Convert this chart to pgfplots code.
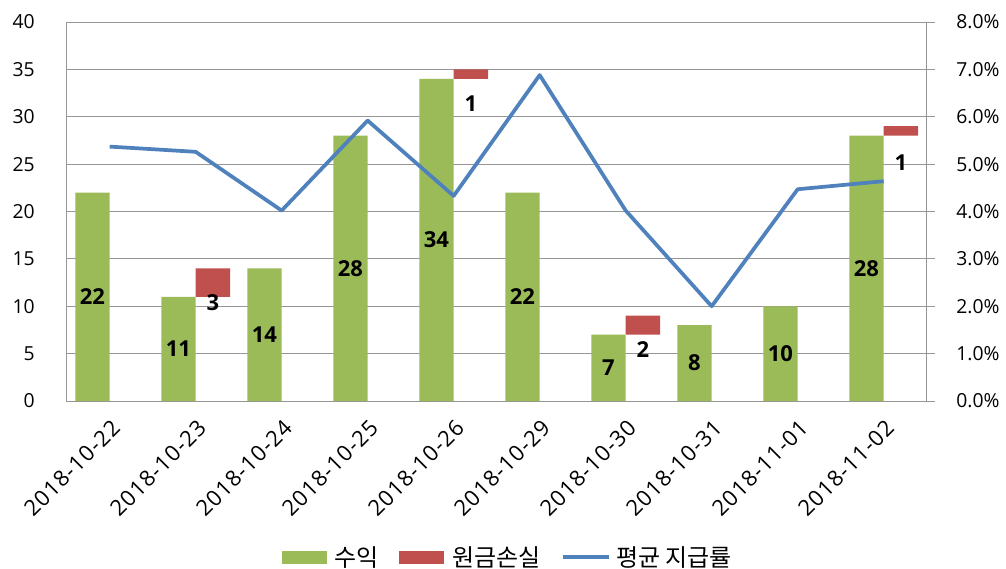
\documentclass[border=0pt]{standalone}
\usepackage{fontspec}
\setmainfont{Open Sans}
\newfontfamily\xlab{Open Sans}[LetterSpace=5]
\newfontfamily\kr{Noto Sans CJK KR}
\usepackage{pgfplots}
\usepackage{pgfplotstable}
\pgfplotsset{compat=1.18}

\definecolor{barGreen}{HTML}{9BBB59}
\definecolor{barRed}{HTML}{C0504D}
\definecolor{lineBlue}{HTML}{4F81BD}
\definecolor{gridGray}{HTML}{969696}

\pgfplotstableread{
x  y
0  22
1  11
2  14
3  28
4  34
5  22
6  7
7  8
8  10
9  28
}\gain

\pgfplotstableread{
x  y
0  0
1  3
2  0
3  0
4  1
5  0
6  2
7  0
8  0
9  1
}\loss

\pgfplotstableread{
x  y
0  5.37
1  5.26
2  4.02
3  5.92
4  4.33
5  6.88
6  4.02
7  2.00
8  4.47
9  4.64
}\rate

\pgfplotstableread{
x     y      lab
-0.2  11     22
0.8   5.5    11
1.8   7      14
2.8   14     28
3.8   17     34
4.8   11     22
5.8   3.5    7
6.8   4      8
7.8   5      10
8.8   14     28
1.2   10.35  3
4.2   31.35  1
6.2   5.4    2
9.2   25.15  1
}\labels

\begin{document}
\begin{tikzpicture}
\pgfplotsset{
  common/.style={
    at={(0,0)}, anchor=south west,
    scale only axis, width=645pt, height=284.25pt,
    xmin=-0.5, xmax=9.5,
    /pgf/number format/assume math mode=true,
    tick label style={font=\fontsize{14.5}{17}\selectfont, text=black},
  }
}
% main axis: bars
\begin{axis}[
  common,
  ymin=0, ymax=40,
  ybar stacked, bar width=0.4,
  xtick={0,...,9},
  xticklabels={2018-10-22,2018-10-23,2018-10-24,2018-10-25,2018-10-26,2018-10-29,2018-10-30,2018-10-31,2018-11-01,2018-11-02},
  xticklabel style={xshift=0.5pt, yshift=-8pt, rotate=45, anchor=north east, font=\xlab\fontsize{16.5}{18}\selectfont},
  ytick={0,5,...,40},
  yticklabel shift=20.5pt,
  major tick length=0pt,
  ymajorgrids,
  grid style={gridGray, line width=0.75pt},
  axis line style={gridGray, line width=0.75pt},
]
\addplot[fill=barGreen, draw=none, bar shift=-0.2] table[x=x,y=y] {\gain};
\addplot[fill=barRed, draw=none, bar shift=0.2] table[x=x,y=y] {\loss};
\end{axis}

% labels
\begin{axis}[
  common, hide axis,
  ymin=0, ymax=40,
]
\addplot[only marks, mark=none, nodes near coords, point meta=explicit symbolic,
  every node near coord/.append style={anchor=center, text=black, font=\bfseries\fontsize{16.5}{18}\selectfont}]
  table[x=x, y=y, meta=lab] {\labels};
\end{axis}

% right axis: line
\begin{axis}[
  common,
  ymin=0, ymax=8,
  axis x line=none,
  axis y line*=right,
  ytick={0,1,...,8},
  yticklabel={\pgfmathprintnumber[fixed,fixed zerofill,precision=1]{\tick}\%},
  tick align=outside,
  major tick length=6pt,
  yticklabel shift=12.7pt,
  axis line style={gridGray, line width=0.75pt},
  y tick style={gridGray, line width=0.75pt},
  legend style={at={(0.5137,-0.4122)}, anchor=center, draw=none, fill=none,
    legend columns=3, font=\kr\fontsize{18}{20}\selectfont,
    /tikz/every even column/.append style={column sep=13pt}},
  legend cell align=left,
]
\addlegendimage{legend image code/.code={\fill[barGreen] (0pt,-4.75pt) rectangle (33pt,4.75pt); \path[draw=none,fill=none] (0pt,0pt) -- (37pt,0pt);}}
\addlegendentry{수익}
\addlegendimage{legend image code/.code={\fill[barRed] (0pt,-4.75pt) rectangle (33pt,4.75pt); \path[draw=none,fill=none] (0pt,0pt) -- (38pt,0pt);}}
\addlegendentry{원금손실}
\addplot[lineBlue, line width=2.8pt, line join=round, mark=none,
  legend image code/.code={\draw[lineBlue, line width=2.8pt] (0pt,0pt) -- (35pt,0pt); \path[draw=none,fill=none] (0pt,0pt) -- (38pt,0pt);}]
  table[x=x,y=y] {\rate};
\addlegendentry{평균 지급률}
\end{axis}

\pgfresetboundingbox
\path[use as bounding box] (-50pt,-125.25pt) rectangle (704.5pt,300.75pt);
\end{tikzpicture}
\end{document}
